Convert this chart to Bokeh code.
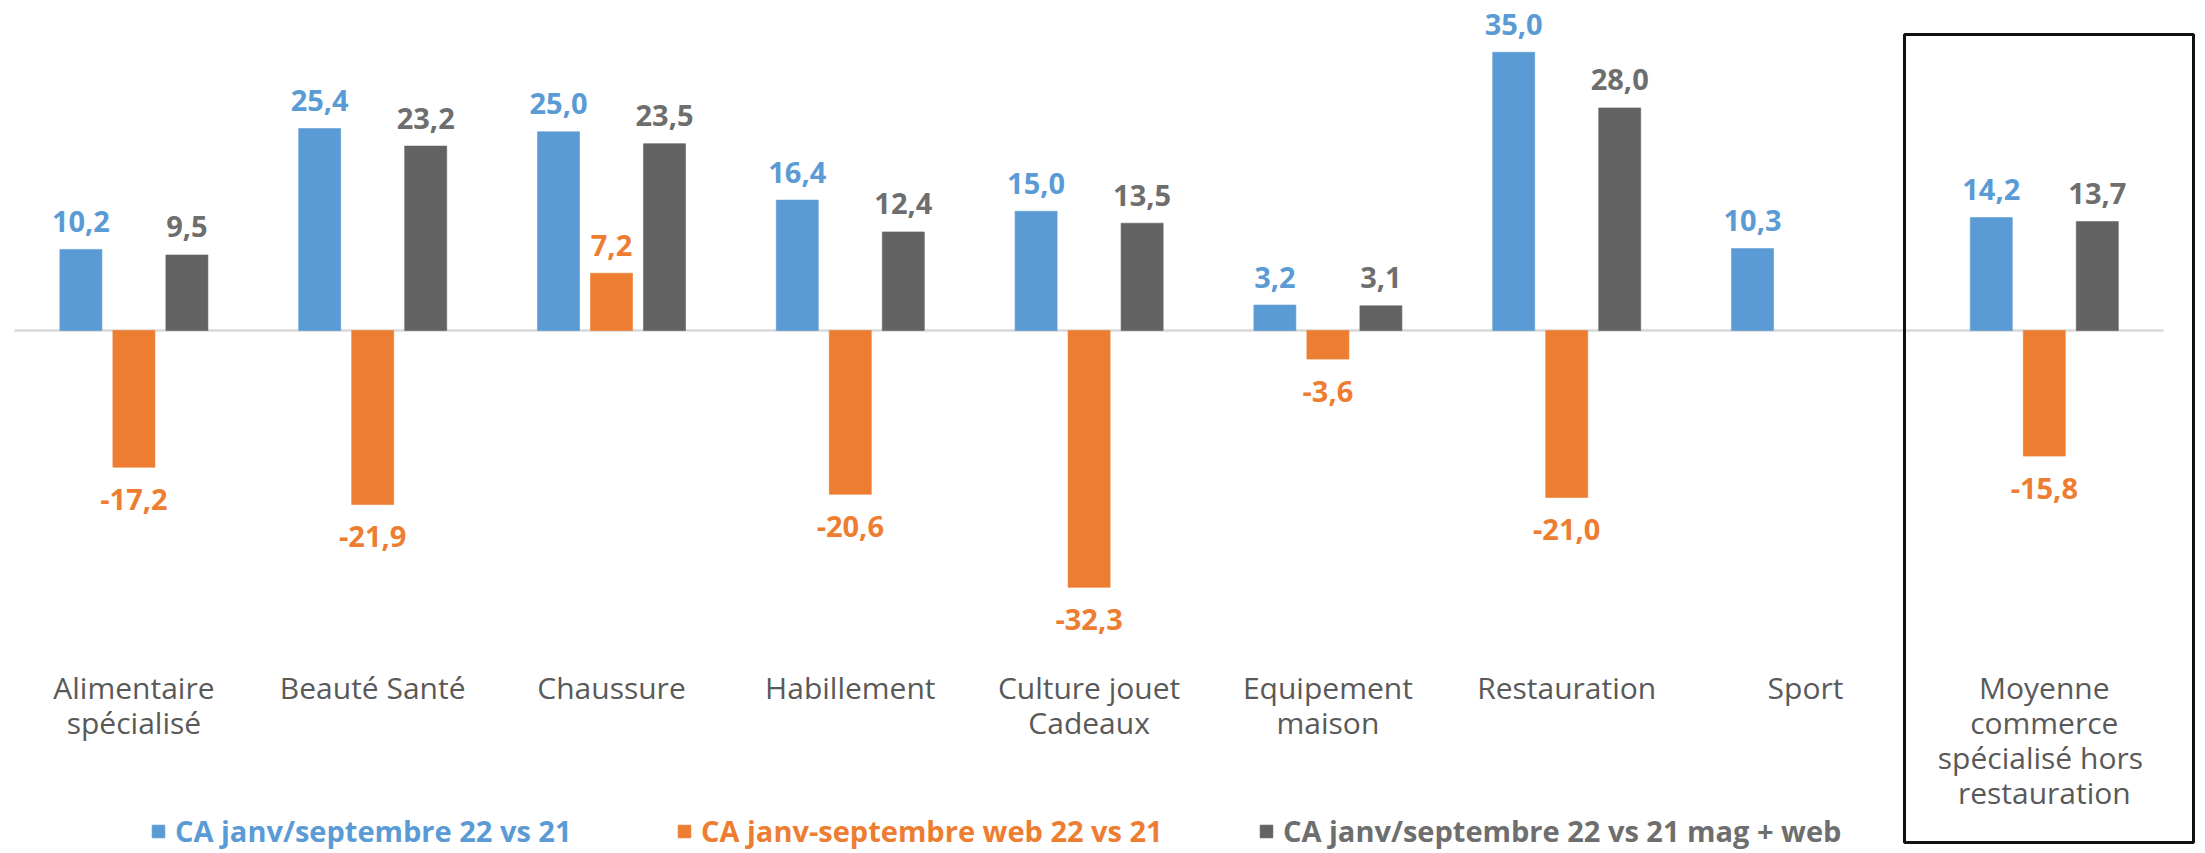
from bokeh.plotting import figure
from bokeh.models import Range1d, BoxAnnotation, Legend, LegendItem, ColumnDataSource
from bokeh.core.properties import value
from bokeh.embed import file_html
from bokeh.resources import INLINE
import math

categories = ["Alimentaire\nspécialisé", "Beauté Santé", "Chaussure", "Habillement",
              "Culture jouet\nCadeaux", "Equipement\nmaison", "Restauration", "Sport",
              "Moyenne\ncommerce\nspécialisé  hors\nrestauration"]
series_names = ["CA janv/septembre 22 vs 21", "CA janv-septembre web 22 vs 21",
                "CA janv/septembre 22 vs 21 mag + web"]
ca_total = [10.2, 25.4, 25.0, 16.4, 15.0, 3.2, 35.0, 10.3, 14.2]
ca_web = [-17.2, -21.9, 7.2, -20.6, -32.3, -3.6, -21.0, None, -15.8]
ca_mag_web = [9.5, 23.2, 23.5, 12.4, 13.5, 3.1, 28.0, None, 13.7]

colors = ["#5B9BD5", "#ED7D31", "#636363"]
label_colors = ["#5B9BD5", "#ED7D31", "#6E6E6E"]
offsets = [-0.222, 0.0, 0.222]
bar_w = 0.176

W, H = 2205, 853
px_per_cat = 238.8
px_per_unit = 7.95
zero_px = 330  # px of zero line from top
left_px = 14

n = len(categories)
p = figure(width=W, height=H, output_backend="svg", toolbar_location=None,
           min_border=0, min_border_left=0, min_border_right=0,
           min_border_top=0, min_border_bottom=0)
p.x_range = Range1d(-left_px / px_per_cat, (W - left_px) / px_per_cat)
p.y_range = Range1d(-(H - zero_px) / px_per_unit, zero_px / px_per_unit)
p.axis.visible = False
p.grid.visible = False
p.outline_line_color = None
p.background_fill_color = "white"

# zero line
p.line(x=[0, n], y=[0, 0], line_color="#D9D9D9", line_width=2.5)

FONT = "Open Sans"
renderers = []
for si, (vals, col, lcol, off) in enumerate(zip([ca_total, ca_web, ca_mag_web], colors, label_colors, offsets)):
    xs = [i + 0.5 + off for i in range(n)]
    tops = [v if v is not None else math.nan for v in vals]
    src = ColumnDataSource(dict(x=xs, top=tops))
    r = p.vbar(x="x", top="top", bottom=0, width=bar_w, source=src,
               fill_color=col, line_color=col, line_alpha=0.6, line_width=1)
    renderers.append(r)
    pos = [(x, v) for x, v in zip(xs, vals) if v is not None and v >= 0]
    neg = [(x, v) for x, v in zip(xs, vals) if v is not None and v < 0]
    for group, yoff in ((pos, -28), (neg, 32)):
        if not group:
            continue
        p.text(x=[g[0] for g in group], y=[g[1] for g in group],
               text=[f"{g[1]:.1f}".replace(".", ",") for g in group],
               text_align="center", text_baseline="middle", y_offset=yoff,
               text_font=value(FONT), text_font_style="bold",
               text_font_size="29px", text_color=lcol)

# category labels
first_baseline = -(687 - zero_px) / px_per_unit
for i, cat in enumerate(categories):
    lines = cat.split("\n")
    for k, line in enumerate(lines):
        p.text(x=[i + 0.5], y=[first_baseline], text=[line], y_offset=k * 35,
               text_align="center", text_baseline="alphabetic",
               text_font=value(FONT), text_font_size="30px", text_color="#595959")

# highlight box around the average category
p.add_layout(BoxAnnotation(left=(1904 - left_px) / px_per_cat, right=(2193 - left_px) / px_per_cat,
                           top=(zero_px - 34) / px_per_unit, bottom=-(842 - zero_px) / px_per_unit,
                           fill_alpha=0, line_color="#111111", line_alpha=1.0, line_width=3))

# legends
legend_x = [150, 676, 1258]
for r, name, lcol, lx in zip(renderers, series_names, label_colors, legend_x):
    lg = Legend(items=[LegendItem(label=name, renderers=[r])], location=(lx, 3),
                orientation="horizontal", border_line_color=None, background_fill_alpha=0,
                padding=0, margin=0, glyph_width=16, glyph_height=16, label_standoff=9,
                label_text_font=FONT, label_text_font_style="bold",
                label_text_font_size="29px", label_text_color=lcol, label_height=24)
    p.add_layout(lg)

open("out.html", "w").write(file_html(p, INLINE))
